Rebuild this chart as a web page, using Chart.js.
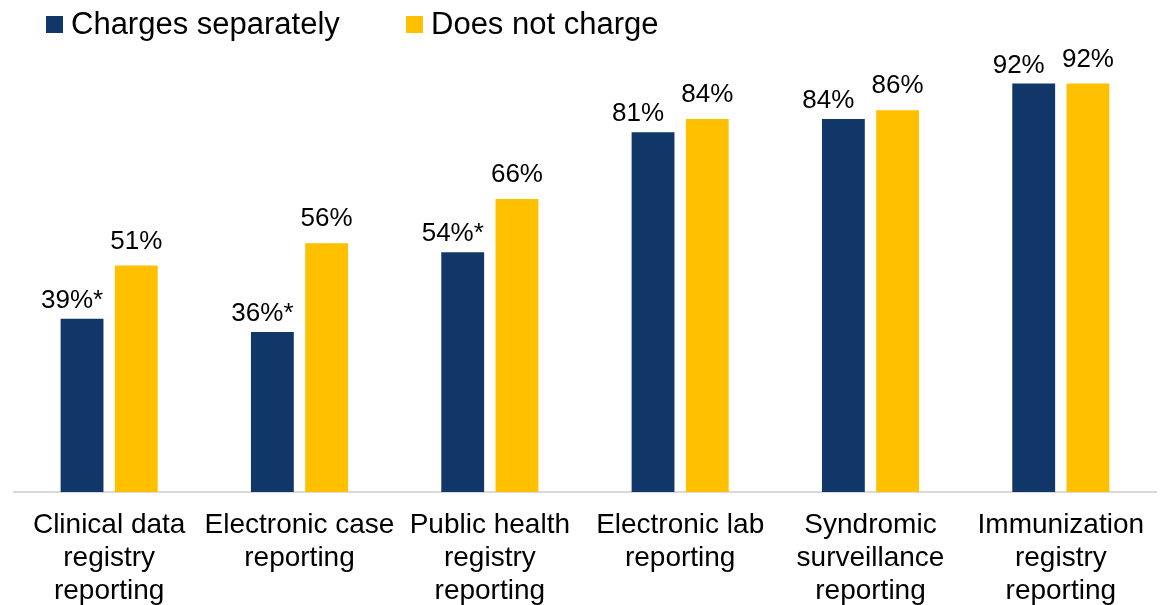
<!DOCTYPE html>
<html>
<head>
<meta charset="utf-8">
<script src="https://cdn.jsdelivr.net/npm/chart.js@4/dist/chart.umd.min.js"></script>
<style>
  html, body { margin: 0; padding: 0; background: #fff; }
  #wrap { position: relative; width: 1167px; height: 605px; }
  #chart { position: absolute; left: 0; top: 0; }
  .legend { position: absolute; top: 4px; font-family: "Liberation Sans", Arial, sans-serif; font-size: 31px; color: #000; white-space: nowrap; line-height: 40px; }
  .legend span.box { display: inline-block; width: 17px; height: 17px; margin-right: 8px; vertical-align: 1px; }
</style>
</head>
<body>
<div id="wrap">
  <canvas id="chart" width="1167" height="605"></canvas>
  <div class="legend" style="left:46px"><span class="box" style="background:#113768"></span>Charges separately</div>
  <div class="legend" style="left:406px"><span class="box" style="background:#ffc000"></span>Does not charge</div>
</div>
<script>
const categories = [
  ["Clinical data", "registry", "reporting"],
  ["Electronic case", "reporting"],
  ["Public health", "registry", "reporting"],
  ["Electronic lab", "reporting"],
  ["Syndromic", "surveillance", "reporting"],
  ["Immunization", "registry", "reporting"]
];
const chargesSeparately = [39, 36, 54, 81, 84, 92];
const doesNotCharge = [51, 56, 66, 84, 86, 92];
// asterisk = significant difference
const chargesStar = [true, true, true, false, false, false];
const doesNotStar = [false, false, false, false, false, false];

const navy = "#113768";
const gold = "#ffc000";

// label placement per series: horizontal shift from bar centre, gap above bar
const labelShift = [-15, 0];
const labelGap = [11, 17];

const valueLabels = {
  id: "valueLabels",
  afterDatasetsDraw(chart) {
    const ctx = chart.ctx;
    ctx.save();
    ctx.font = '26px "Liberation Sans", Arial, sans-serif';
    ctx.fillStyle = "#000";
    ctx.textBaseline = "alphabetic";
    chart.data.datasets.forEach((ds, di) => {
      const meta = chart.getDatasetMeta(di);
      const stars = di === 0 ? chargesStar : doesNotStar;
      meta.data.forEach((bar, i) => {
        const txt = ds.data[i] + "%";
        const w = ctx.measureText(txt).width;
        const x0 = bar.x + labelShift[di] - w / 2;
        const y = bar.y - labelGap[di];
        ctx.textAlign = "left";
        ctx.fillText(txt, x0, y);
        if (stars[i]) ctx.fillText("*", x0 + w, y);
      });
    });
    ctx.restore();
  }
};

new Chart(document.getElementById("chart").getContext("2d"), {
  type: "bar",
  data: {
    labels: categories,
    datasets: [
      {
        label: "Charges separately",
        data: chargesSeparately,
        backgroundColor: navy,
        categoryPercentage: 0.57,
        barPercentage: 0.79
      },
      {
        label: "Does not charge",
        data: doesNotCharge,
        backgroundColor: gold,
        categoryPercentage: 0.57,
        barPercentage: 0.79
      }
    ]
  },
  options: {
    responsive: false,
    animation: false,
    layout: {
      padding: { top: 48, left: 14, right: 11, bottom: -20 }
    },
    plugins: {
      legend: { display: false },
      tooltip: { enabled: false }
    },
    scales: {
      x: {
        grid: { display: false, drawTicks: false },
        border: { display: true, color: "#d9d9d9", width: 2 },
        ticks: {
          color: "#000",
          maxRotation: 0,
          autoSkip: false,
          padding: 17,
          font: { family: '"Liberation Sans", Arial, sans-serif', size: 28, lineHeight: 1.18 }
        }
      },
      y: {
        display: false,
        min: 0,
        max: 100
      }
    }
  },
  plugins: [valueLabels]
});
</script>
</body>
</html>
